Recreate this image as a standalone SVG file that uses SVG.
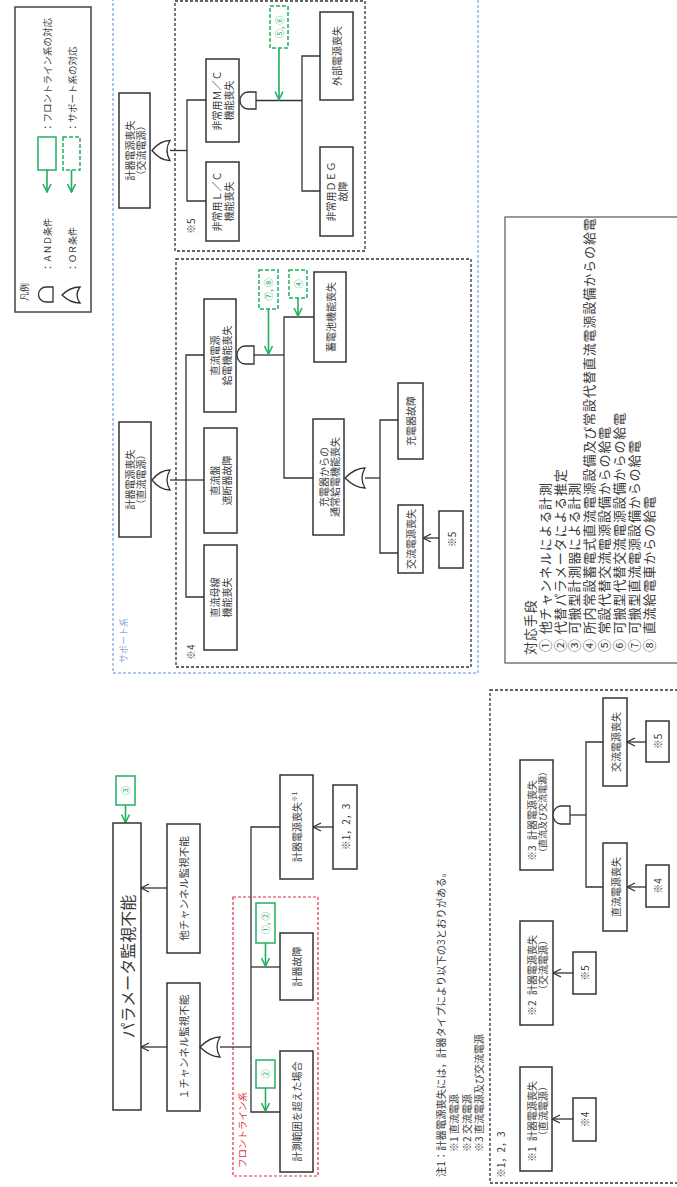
<svg xmlns="http://www.w3.org/2000/svg" width="677" height="1187" viewBox="0 0 677 1187">
<style>
.bg{fill:#fff}
.box{fill:#fff;stroke:#333;stroke-width:1.5}
.ln{fill:none;stroke:#333;stroke-width:1.3}
.gate{fill:#fff;stroke:#333;stroke-width:1.3}
.frame{fill:none;stroke:#333;stroke-width:1.3;stroke-dasharray:3,2}
.blue{fill:none;stroke:#5f8fd0;stroke-width:1;stroke-dasharray:3,2}
.red{fill:none;stroke:#e0303e;stroke-width:1.2;stroke-dasharray:3,2}
.gbox{fill:#fff;stroke:#22b060;stroke-width:1.5}
.gdash{fill:#fff;stroke:#22b060;stroke-width:1.5;stroke-dasharray:4,2}
.ar{fill:none;stroke:#333;stroke-width:1.3;marker-end:url(#ba)}
.gar{fill:none;stroke:#22b060;stroke-width:1.6;marker-end:url(#ga)}
text{font-family:"Noto Sans CJK JP","Noto Sans",sans-serif;fill:#3a3a3a;font-size:10px}
.c{text-anchor:middle;dominant-baseline:central}
.s{text-anchor:start;dominant-baseline:central}
.g{fill:#22b060;font-size:9px}
.l{font-size:13px;letter-spacing:0.9px}
</style>
<defs>
<marker id="ba" markerWidth="10" markerHeight="10" refX="9" refY="5" orient="auto" markerUnits="userSpaceOnUse"><path d="M1,1 L9,5 L1,9" fill="none" stroke="#333" stroke-width="1.3"/></marker>
<marker id="ga" markerWidth="10" markerHeight="10" refX="9" refY="5" orient="auto" markerUnits="userSpaceOnUse"><path d="M1,1 L9,5 L1,9" fill="none" stroke="#22b060" stroke-width="1.6"/></marker>
</defs>
<rect class="bg" x="0" y="0" width="677" height="1187"/>

<!-- frames -->
<g id="frames">
<rect class="blue" x="113" y="-5" width="365" height="678"/>
<text class="s" transform="translate(123,663) rotate(-90)" style="fill:#8ea8d8;font-size:9px">サポート系</text>
<rect class="frame" x="175" y="1" width="190" height="250"/>
<text class="s" transform="translate(190,234) rotate(-90)">※5</text>
<rect class="frame" x="176" y="259" width="295" height="408"/>
<text class="s" transform="translate(190,660) rotate(-90)">※4</text>
<rect class="red" x="233" y="897" width="85" height="279"/>
<text class="s" transform="translate(242,1168) rotate(-90)" style="fill:#e0303e;font-size:9.5px">フロントライン系</text>
<rect class="frame" x="490" y="690" width="195" height="493"/>
<text class="s" transform="translate(500,1178) rotate(-90)">※1，2，3</text>
</g>

<!-- legend -->
<g id="legend">
<rect fill="none" stroke="#444" stroke-width="1.5" x="15" y="7" width="76" height="305"/>
<text class="s" transform="translate(24,301) rotate(-90)" style="font-size:9px">凡例</text>
<path class="gate" d="M53,287 H46 A7.5,7.5 0 0 0 46,302 H53 Z"/>
<path class="gate" d="M80,287 Q74,295 80,303 Q70,303 62,295 Q70,287 80,287 Z"/>
<text class="s" transform="translate(47,272) rotate(-90)" style="font-size:9px">：ＡＮＤ条件</text>
<text class="s" transform="translate(72,272) rotate(-90)" style="font-size:9px">：ＯＲ条件</text>
<rect class="gbox" x="38" y="137" width="18" height="33"/>
<line class="gar" x1="47" y1="170" x2="47" y2="192"/>
<rect class="gdash" x="63" y="137" width="17" height="33"/>
<line class="gar" x1="71.5" y1="170" x2="71.5" y2="192"/>
<text class="s" transform="translate(47,132) rotate(-90)" style="font-size:9.5px">：フロントライン系の対応</text>
<text class="s" transform="translate(72,132) rotate(-90)" style="font-size:9.5px">：サポート系の対応</text>
</g>

<!-- connectors -->
<g id="connectors">
<polyline class="ln" points="170,150.5 187,150.5"/>
<polyline class="ln" points="206,100 187,100 187,201 206,201"/>
<polyline class="ln" points="256,100.5 302,100.5"/>
<polyline class="ln" points="320,56 302,56 302,191 320,191"/>
<line class="gar" x1="279" y1="48" x2="279" y2="99.5"/>
<polyline class="ln" points="170,480 186,480"/>
<polyline class="ln" points="204,355 186,355 186,597 204,597"/>
<polyline class="ln" points="186,480 204,480"/>
<polyline class="ln" points="254,355 284,355"/>
<polyline class="ln" points="314,317 284,317 284,478 313,478"/>
<line class="gar" x1="268.5" y1="309" x2="268.5" y2="354"/>
<line class="gar" x1="298" y1="298" x2="298" y2="316"/>
<polyline class="ln" points="365,478 380,478"/>
<polyline class="ln" points="398,420 380,420 380,553 398,553"/>
<line class="ar" x1="439" y1="538" x2="423" y2="538"/>
<line class="gar" x1="125.5" y1="805" x2="125.5" y2="822.5"/>
<line class="ar" x1="167" y1="888" x2="141" y2="888"/>
<line class="ar" x1="167" y1="1047" x2="141" y2="1047"/>
<polyline class="ln" points="220,1047 251,1047"/>
<polyline class="ln" points="280,827 251,827 251,1112 280,1112"/>
<polyline class="ln" points="251,967 280,967"/>
<line class="gar" x1="265.5" y1="943" x2="265.5" y2="966"/>
<line class="gar" x1="265.5" y1="1088" x2="265.5" y2="1111"/>
<line class="ar" x1="333" y1="827" x2="313" y2="827"/>
<line class="ar" x1="573" y1="1119" x2="552" y2="1119"/>
<line class="ar" x1="573" y1="973" x2="553" y2="973"/>
<polyline class="ln" points="570,815 586,815"/>
<polyline class="ln" points="603,742 586,742 586,887 603,887"/>
<line class="ar" x1="646" y1="742" x2="627" y2="742"/>
<line class="ar" x1="646" y1="887" x2="627" y2="887"/>
</g>

<!-- AC tree nodes -->
<g id="ac-loss">
<rect class="box" x="119" y="93" width="31" height="115"/>
<text transform="translate(134.5,150.5) rotate(-90)"><tspan class="c" x="0" y="-5.5">計器電源喪失</tspan><tspan class="c" x="0" y="5.5">（交流電源）</tspan></text>
<path class="gate" d="M170,140.5 Q164,150.5 170,160.5 Q160,160.5 152,150.5 Q160,140.5 170,140.5 Z"/>
</g>
<g id="mc-loss">
<rect class="box" x="206" y="59" width="33" height="83"/>
<text transform="translate(222.5,100.5) rotate(-90)"><tspan class="c" x="0" y="-6">非常用Ｍ／Ｃ</tspan><tspan class="c" x="0" y="6">機能喪失</tspan></text>
<path class="gate" d="M256,92 H248 A8,8.5 0 0 0 248,109 H256 Z"/>
</g>
<g id="lc-loss">
<rect class="box" x="206" y="162" width="33" height="79"/>
<text transform="translate(222.5,201.5) rotate(-90)"><tspan class="c" x="0" y="-6">非常用Ｌ／Ｃ</tspan><tspan class="c" x="0" y="6">機能喪失</tspan></text>
</g>
<g id="offsite-loss">
<rect class="box" x="320" y="12" width="33" height="88"/>
<text class="c" transform="translate(336.5,56) rotate(-90)">外部電源喪失</text>
</g>
<g id="deg-fail">
<rect class="box" x="320" y="147" width="33" height="89"/>
<text transform="translate(336.5,191.5) rotate(-90)"><tspan class="c" x="0" y="-6">非常用ＤＥＧ</tspan><tspan class="c" x="0" y="6">故障</tspan></text>
</g>
<g id="g56">
<rect class="gdash" x="270" y="6" width="18" height="42"/>
<text class="c g" transform="translate(279,27) rotate(-90)">⑤, ⑥</text>
</g>

<!-- DC tree nodes -->
<g id="dc-loss">
<rect class="box" x="119" y="422" width="32" height="115"/>
<text transform="translate(135,479.5) rotate(-90)"><tspan class="c" x="0" y="-5.5">計器電源喪失</tspan><tspan class="c" x="0" y="5.5">（直流電源）</tspan></text>
<path class="gate" d="M170,470 Q164,480 170,490 Q160,490 152,480 Q160,470 170,470 Z"/>
</g>
<g id="dc-supply">
<rect class="box" x="204" y="299" width="32" height="113"/>
<text transform="translate(220,355.5) rotate(-90)"><tspan class="c" x="0" y="-6">直流電源</tspan><tspan class="c" x="0" y="6">給電機能喪失</tspan></text>
<path class="gate" d="M254,346 H245 A8,9 0 0 0 245,364 H254 Z"/>
</g>
<g id="dc-breaker">
<rect class="box" x="204" y="428" width="33" height="105"/>
<text transform="translate(220.5,480.5) rotate(-90)"><tspan class="c" x="0" y="-6">直流盤</tspan><tspan class="c" x="0" y="6">遮断器故障</tspan></text>
</g>
<g id="dc-bus">
<rect class="box" x="204" y="545" width="33" height="105"/>
<text transform="translate(220.5,597.5) rotate(-90)"><tspan class="c" x="0" y="-6">直流母線</tspan><tspan class="c" x="0" y="6">機能喪失</tspan></text>
</g>
<g id="g78">
<rect class="gdash" x="259" y="270" width="19" height="39"/>
<text class="c g" transform="translate(268.5,289.5) rotate(-90)">⑦, ⑧</text>
</g>
<g id="g4">
<rect class="gdash" x="289" y="270" width="18" height="28"/>
<text class="c g" transform="translate(298,284) rotate(-90)">④</text>
</g>
<g id="battery">
<rect class="box" x="314" y="272" width="32" height="90"/>
<text class="c" transform="translate(330,317) rotate(-90)">蓄電池機能喪失</text>
</g>
<g id="charger-supply">
<rect class="box" x="313" y="419" width="31" height="116"/>
<text transform="translate(328.5,477) rotate(-90)"><tspan class="c" x="0" y="-5.5">充電器からの</tspan><tspan class="c" x="0" y="5.5">通常給電機能喪失</tspan></text>
<path class="gate" d="M365,468 Q359,478 365,488 Q355,488 345,478 Q355,468 365,468 Z"/>
</g>
<g id="charger-fail">
<rect class="box" x="398" y="383" width="25" height="76"/>
<text class="c" transform="translate(410.5,421) rotate(-90)">充電器故障</text>
</g>
<g id="ac-loss-2">
<rect class="box" x="398" y="505" width="25" height="68"/>
<text class="c" transform="translate(410.5,539) rotate(-90)">交流電源喪失</text>
</g>
<g id="ref5-a">
<rect class="box" x="439" y="511" width="24" height="57"/>
<text class="c" transform="translate(451,539.5) rotate(-90)">※5</text>
</g>

<!-- response list -->
<g id="responses">
<rect fill="none" stroke="#555" stroke-width="1.2" x="505" y="217" width="180" height="446"/>
<text class="s l" transform="translate(529,655) rotate(-90)">対応手段</text>
<text class="s l" transform="translate(544,652) rotate(-90)">① 他チャンネルによる計測</text>
<text class="s l" transform="translate(559,652) rotate(-90)">② 代替パラメータによる推定</text>
<text class="s l" transform="translate(573.5,652) rotate(-90)">③ 可搬型計測器による計測</text>
<text class="s l" transform="translate(588,652) rotate(-90)">④ 所内常設蓄電式直流電源設備及び常設代替直流電源設備からの給電</text>
<text class="s l" transform="translate(603,652) rotate(-90)">⑤ 常設代替交流電源設備からの給電</text>
<text class="s l" transform="translate(618,652) rotate(-90)">⑥ 可搬型代替交流電源設備からの給電</text>
<text class="s l" transform="translate(633,652) rotate(-90)">⑦ 可搬型直流電源設備からの給電</text>
<text class="s l" transform="translate(648,652) rotate(-90)">⑧ 直流給電車からの給電</text>
</g>

<!-- front tree nodes -->
<g id="param">
<rect class="box" x="113" y="823" width="28" height="287"/>
<text class="c" transform="translate(127,966.5) rotate(-90)" style="font-size:16px">パラメータ監視不能</text>
</g>
<g id="g3">
<rect class="gbox" x="116" y="776" width="19" height="29"/>
<text class="c g" transform="translate(125.5,790.5) rotate(-90)">③</text>
</g>
<g id="other-ch">
<rect class="box" x="167" y="824" width="33" height="129"/>
<text class="c" transform="translate(183.5,888.5) rotate(-90)" style="font-size:10.5px">他チャンネル監視不能</text>
</g>
<g id="one-ch">
<rect class="box" x="167" y="983" width="33" height="128"/>
<text class="c" transform="translate(183.5,1047) rotate(-90)" style="font-size:10.5px">１チャンネル監視不能</text>
<path class="gate" d="M220,1037 Q214,1047 220,1057 Q210,1057 200,1047 Q210,1037 220,1037 Z"/>
</g>
<g id="inst-power">
<rect class="box" x="280" y="775" width="33" height="104"/>
<text class="c" transform="translate(296.5,827) rotate(-90)">計器電源喪失<tspan style="font-size:6.5px" dy="-3">※1</tspan></text>
</g>
<g id="inst-fail">
<rect class="box" x="280" y="933" width="33" height="67"/>
<text class="c" transform="translate(296.5,966.5) rotate(-90)">計器故障</text>
</g>
<g id="over-range">
<rect class="box" x="280" y="1051" width="33" height="121"/>
<text class="c" transform="translate(296.5,1111.5) rotate(-90)">計測範囲を超えた場合</text>
</g>
<g id="g12">
<rect class="gbox" x="256" y="903" width="19" height="40"/>
<text class="c g" transform="translate(265.5,923) rotate(-90)">①, ②</text>
</g>
<g id="g2">
<rect class="gbox" x="256" y="1060" width="19" height="28"/>
<text class="c g" transform="translate(265.5,1074) rotate(-90)">②</text>
</g>
<g id="ref123">
<rect class="box" x="333" y="785" width="24" height="84"/>
<text class="c" transform="translate(345,827) rotate(-90)">※1，2，3</text>
</g>

<!-- notes -->
<g id="notes">
<text class="s" transform="translate(440,1177) rotate(-90)" style="font-size:10.3px">注1：計器電源喪失には，計器タイプにより以下の3とおりがある。</text>
<text class="s" transform="translate(453,1152) rotate(-90)">※1</text>
<text class="s" transform="translate(453,1134) rotate(-90)">直流電源</text>
<text class="s" transform="translate(466,1152) rotate(-90)">※2</text>
<text class="s" transform="translate(466,1134) rotate(-90)">交流電源</text>
<text class="s" transform="translate(478,1152) rotate(-90)">※3</text>
<text class="s" transform="translate(478,1134) rotate(-90)">直流電源及び交流電源</text>
</g>

<!-- bottom right nodes -->
<g id="type1">
<rect class="box" x="520" y="1067" width="32" height="104"/>
<text class="s" transform="translate(531,1162) rotate(-90)">※1</text>
<text class="s" transform="translate(531,1141) rotate(-90)">計器電源喪失</text>
<text class="c" transform="translate(542,1111) rotate(-90)">（直流電源）</text>
</g>
<g id="ref4-b">
<rect class="box" x="573" y="1098" width="23" height="43"/>
<text class="c" transform="translate(584.5,1119.5) rotate(-90)">※4</text>
</g>
<g id="type2">
<rect class="box" x="520" y="921" width="33" height="104"/>
<text class="s" transform="translate(531,1016) rotate(-90)">※2</text>
<text class="s" transform="translate(531,995) rotate(-90)">計器電源喪失</text>
<text class="c" transform="translate(542,965) rotate(-90)">（交流電源）</text>
</g>
<g id="ref5-b">
<rect class="box" x="573" y="952" width="23" height="42"/>
<text class="c" transform="translate(584.5,973) rotate(-90)">※5</text>
</g>
<g id="type3">
<rect class="box" x="520" y="760" width="33" height="110"/>
<text class="s" transform="translate(531,861) rotate(-90)">※3</text>
<text class="s" transform="translate(531,840) rotate(-90)">計器電源喪失</text>
<text class="c" transform="translate(542,812) rotate(-90)" style="font-size:9px">（直流及び交流電源）</text>
<path class="gate" d="M570,806 H561 A8,9 0 0 0 561,824 H570 Z"/>
</g>
<g id="ac-loss-3">
<rect class="box" x="603" y="698" width="24" height="88"/>
<text class="c" transform="translate(615,742) rotate(-90)">交流電源喪失</text>
</g>
<g id="ref5-c">
<rect class="box" x="646" y="721" width="23" height="41"/>
<text class="c" transform="translate(657.5,741.5) rotate(-90)">※5</text>
</g>
<g id="dc-loss-3">
<rect class="box" x="603" y="843" width="24" height="88"/>
<text class="c" transform="translate(615,887) rotate(-90)">直流電源喪失</text>
</g>
<g id="ref4-c">
<rect class="box" x="646" y="865" width="23" height="42"/>
<text class="c" transform="translate(657.5,886) rotate(-90)">※4</text>
</g>
</svg>
